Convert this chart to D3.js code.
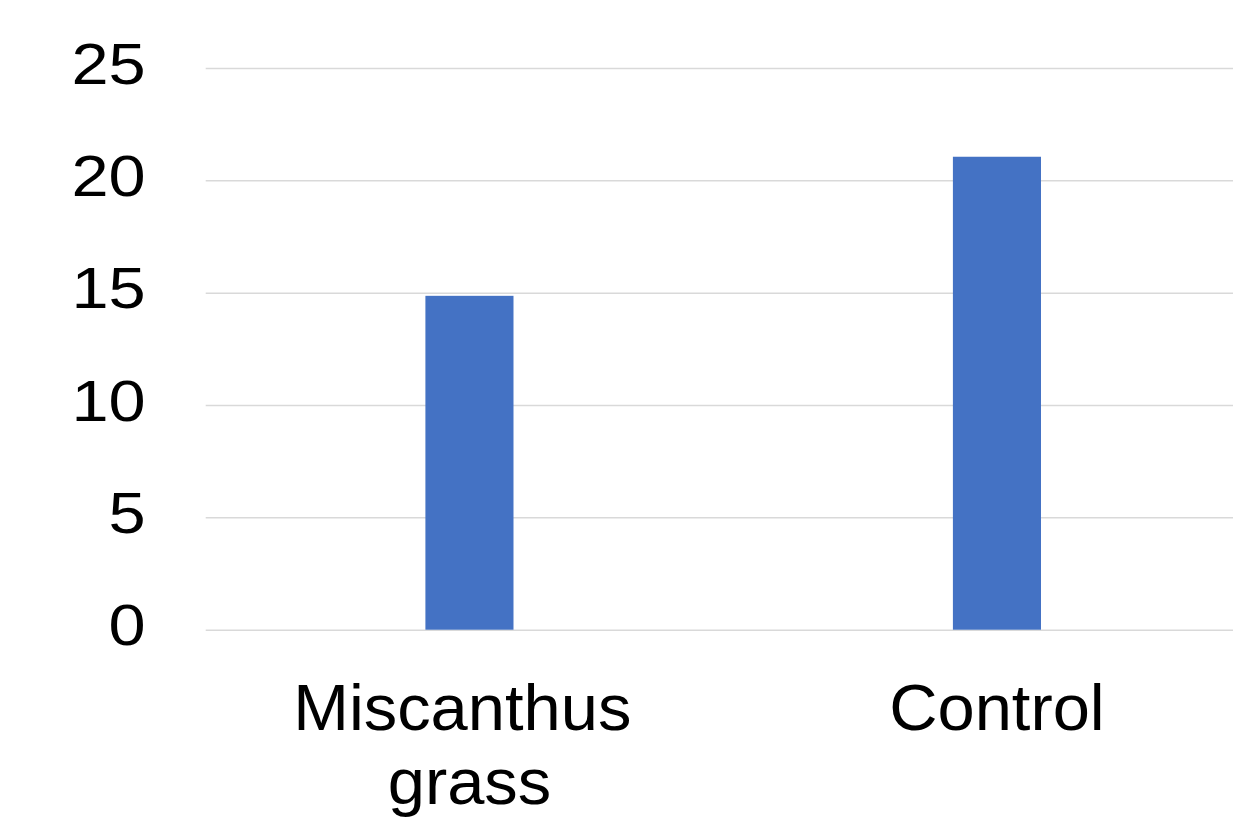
<!DOCTYPE html>
<html>
<head>
<meta charset="utf-8">
<script src="https://cdn.jsdelivr.net/npm/d3@7"></script>
<style>
  html, body { margin: 0; padding: 0; background: #fff; }
  svg { display: block; }
  text { font-family: "Liberation Sans", Arial, sans-serif; fill: #000; }
</style>
</head>
<body>
<svg id="chart" width="1233" height="821"></svg>
<script>
const categories = ["Miscanthus grass", "Control"];
const categoryLines = [["Miscanthus ", "grass"], ["Control"]];
const values = [14.86, 21.05];
const yTicks = [0, 5, 10, 15, 20, 25];

const W = 1233, H = 821;
const plot = { left: 205.7, right: 1260.7, top: 68, bottom: 629.7 };

const svg = d3.select("#chart");

const y = d3.scaleLinear().domain([0, 25]).range([plot.bottom, plot.top]);
const x = d3.scaleBand().domain(categories).range([plot.left, plot.right]).padding(0);
const barFrac = 0.167;
const barW = x.bandwidth() * barFrac;

// gridlines
const grid = svg.append("g").attr("transform", `translate(${plot.left},0)`)
  .call(d3.axisLeft(y).tickValues(yTicks).tickSize(-(plot.right - plot.left)).tickFormat(""));
grid.select(".domain").remove();
grid.selectAll("line").attr("stroke", "#d9d9d9").attr("stroke-width", 1.5);

// y tick labels
const sxY = 1.15;
const yAxis = svg.append("g").attr("transform", `translate(${plot.left},0)`)
  .call(d3.axisLeft(y).tickValues(yTicks).tickSize(0).tickPadding(60).tickFormat(d3.format("d")));
yAxis.select(".domain").remove();
yAxis.selectAll("text")
  .attr("font-size", 58)
  .attr("dy", null)
  .attr("y", 15)
  .attr("x", -60 / sxY)
  .attr("transform", `scale(${sxY},1)`)
  .style("font-family", '"Liberation Sans", Arial, sans-serif');

// bars
svg.append("g").selectAll("rect")
  .data(categories)
  .join("rect")
  .attr("x", (d) => x(d) + (x.bandwidth() - barW) / 2)
  .attr("width", barW)
  .attr("y", (d, i) => y(values[i]))
  .attr("height", (d, i) => y(0) - y(values[i]))
  .attr("fill", "#4472C4");

// x labels
const sxX = 1.045;
const xAxis = svg.append("g").attr("transform", `translate(0,${plot.bottom})`)
  .call(d3.axisBottom(x).tickSize(0).tickFormat(""));
xAxis.select(".domain").remove();
xAxis.selectAll(".tick").each(function(d, i) {
  const t = d3.select(this).append("text")
    .attr("text-anchor", "middle")
    .attr("font-size", 64)
    .attr("transform", `scale(${sxX},1)`)
    .style("white-space", "pre")
    .style("font-family", '"Liberation Sans", Arial, sans-serif');
  categoryLines[i].forEach((line, j) => {
    t.append("tspan").attr("x", i === 0 && j === 0 ? 2 : 0).attr("y", 100 + j * 74).text(line);
  });
});
</script>
</body>
</html>
